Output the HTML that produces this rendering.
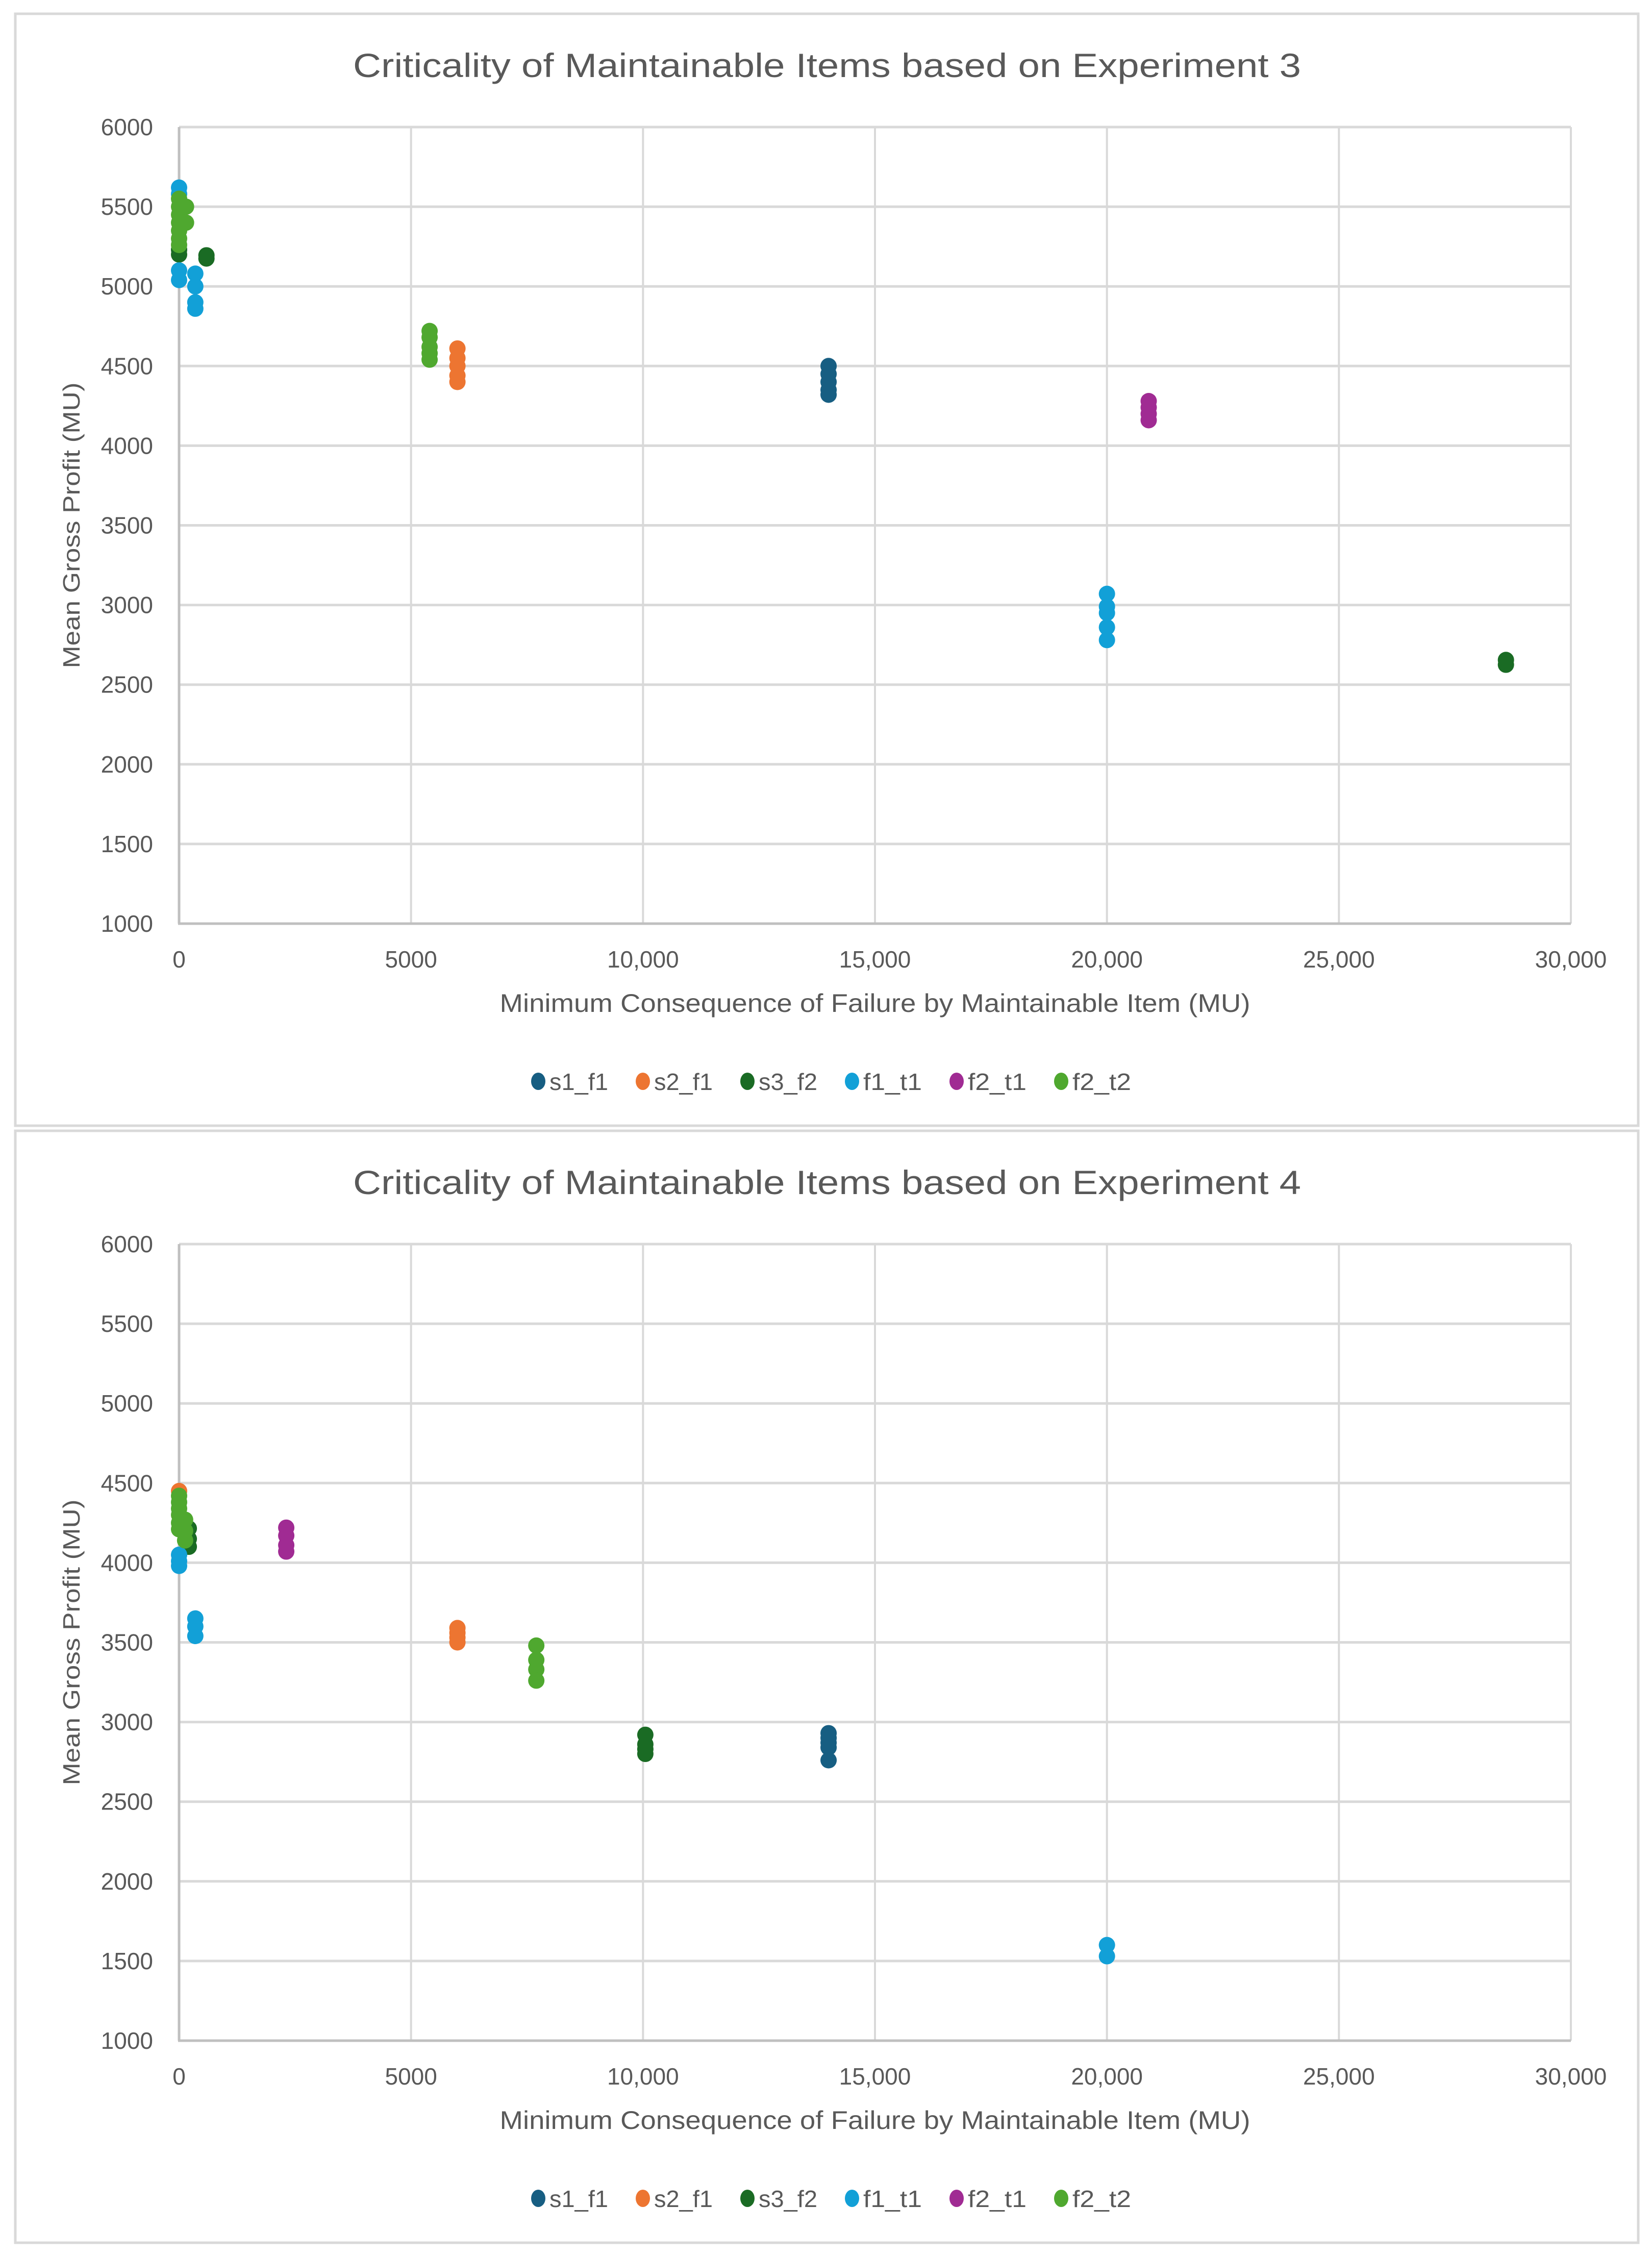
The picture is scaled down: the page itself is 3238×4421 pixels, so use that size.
<!DOCTYPE html>
<html><head><meta charset="utf-8">
<style>
html,body{margin:0;padding:0;background:#fff;}
svg{display:block;}
text{font-family:"Liberation Sans",sans-serif;fill:#595959;}
</style></head>
<body>
<svg id="root" width="3238" height="4421" viewBox="0 0 3238 4421" xmlns="http://www.w3.org/2000/svg"></svg>
<script>
const seriesNames = ["s1_f1","s2_f1","s3_f2","f1_t1","f2_t1","f2_t2"];
const seriesColors = ["#175E82","#ED7531","#1A6B24","#12A0D7","#A02B93","#4FA82F"];
const xTicks = [0,5000,10000,15000,20000,25000,30000];
const xTickLabels = ["0","5000","10,000","15,000","20,000","25,000","30,000"];
const yTicks = [1000,1500,2000,2500,3000,3500,4000,4500,5000,5500,6000];
const yTickLabels = ["1000","1500","2000","2500","3000","3500","4000","4500","5000","5500","6000"];

// Experiment 3 data
const e3_s1f1_x = [14000,14000,14000,14000,14000];
const e3_s1f1_y = [4500,4450,4400,4350,4320];
const e3_s2f1_x = [6000,6000,6000,6000,6000];
const e3_s2f1_y = [4610,4550,4500,4440,4400];
const e3_s3f2_x = [0,0,590,590,28600,28600];
const e3_s3f2_y = [5200,5230,5195,5175,2655,2625];
const e3_f1t1_x = [0,0,0,0,350,350,350,350,20000,20000,20000,20000,20000];
const e3_f1t1_y = [5620,5580,5100,5040,5080,5000,4900,4860,3070,2990,2950,2860,2780];
const e3_f2t1_x = [20900,20900,20900,20900];
const e3_f2t1_y = [4280,4240,4200,4160];
const e3_f2t2_x = [5400,5400,5400,5400,5400,0,0,0,0,0,0,0,150,150];
const e3_f2t2_y = [4720,4680,4620,4580,4540,5550,5500,5450,5400,5350,5300,5260,5500,5400];

// Experiment 4 data
const e4_s1f1_x = [14000,14000,14000,14000,14000];
const e4_s1f1_y = [2930,2900,2870,2840,2760];
const e4_s2f1_x = [0,6000,6000,6000,6000];
const e4_s2f1_y = [4450,3590,3560,3530,3500];
const e4_s3f2_x = [210,210,210,10050,10050,10050,10050];
const e4_s3f2_y = [4215,4150,4100,2920,2860,2830,2800];
const e4_f1t1_x = [0,0,0,350,350,350,20000,20000];
const e4_f1t1_y = [4050,4010,3980,3650,3600,3540,1600,1530];
const e4_f2t1_x = [2310,2310,2310,2310];
const e4_f2t1_y = [4220,4170,4110,4070];
const e4_f2t2_x = [7700,7700,7700,7700,0,0,0,0,0,0,130,130,130];
const e4_f2t2_y = [3480,3390,3330,3260,4420,4380,4340,4300,4250,4210,4270,4200,4140];

const NS = "http://www.w3.org/2000/svg";
const root = document.getElementById("root");
function mk(tag, attrs, parent){
  const e = document.createElementNS(NS, tag);
  for (const k in attrs) e.setAttribute(k, attrs[k]);
  parent.appendChild(e);
  return e;
}

function drawChart(off, title, idx, data){
  const g = mk("g", {}, root);
  
  
  const border = mk("rect", {x:30, y:27+off, width:3181, height:2179, fill:"#fff", stroke:"#D9D9D9", "stroke-width":5}, g);
  
  
  const L = 351, R = 3079, T = 249+off, B = 1810+off;
  const xs = v => L + (v - 0) / 30000 * (R - L);
  const ys = v => B - (v - 1000) / 5000 * (B - T);
  const t = mk("text", {x:1621, y:151+off, "font-size":66, "text-anchor":"middle", textLength:1858, lengthAdjust:"spacingAndGlyphs"}, g);
  t.textContent = title;
  
  
  // gridlines
  yTicks.forEach((v, i) => {
    if (i > 0) {
      const gl = mk("line", {x1:L, x2:R, y1:ys(v), y2:ys(v), stroke:"#D9D9D9", "stroke-width":5}, g);
      
      
    }
    const tl = mk("text", {x:300, y:ys(v)+16, "font-size":46, "text-anchor":"end"}, g);
    tl.textContent = yTickLabels[i];
    
    
  });
  xTicks.forEach((v, i) => {
    if (i > 0) {
      const gl = mk("line", {x1:xs(v), x2:xs(v), y1:T, y2:B, stroke:"#D9D9D9", "stroke-width":4}, g);
      
      
    }
    const tl = mk("text", {x:xs(v), y:1896+off, "font-size":46, "text-anchor":"middle"}, g);
    tl.textContent = xTickLabels[i];
    
    
  });
  const ax = mk("line", {x1:L, x2:L, y1:T, y2:B, stroke:"#BFBFBF", "stroke-width":5}, g);
  
  
  const bx = mk("line", {x1:L-2, x2:R, y1:B, y2:B, stroke:"#BFBFBF", "stroke-width":5}, g);
  
  
  const yt = mk("text", {x:0, y:0, "font-size":46, "text-anchor":"middle", transform:`translate(156 ${(T+B)/2}) rotate(-90)`, textLength:560, lengthAdjust:"spacingAndGlyphs"}, g);
  yt.textContent = "Mean Gross Profit (MU)";
  
  
  const xt = mk("text", {x:1715, y:1983+off, "font-size":50, "text-anchor":"middle", textLength:1471, lengthAdjust:"spacingAndGlyphs"}, g);
  xt.textContent = "Minimum Consequence of Failure by Maintainable Item (MU)";
  
  
  // points
  data.forEach((s, si) => {
    const sg = mk("g", {fill:seriesColors[si]}, g);
    
    
    s[0].forEach((xv, k) => {
      const c = mk("circle", {cx:xs(xv), cy:ys(s[1][k]), r:16}, sg);
      
      
    });
  });
  // legend
  const lg = mk("g", {}, g);
  
  
  seriesNames.forEach((n, i) => {
    const cx = 1055 + i * 205;
    const e = mk("g", {}, lg);
    
    
    mk("ellipse", {cx:cx, cy:2119+off, rx:14, ry:17, fill:seriesColors[i]}, e);
    const lt = mk("text", {x:cx+22, y:2136+off, "font-size":46, textLength:115, lengthAdjust:"spacingAndGlyphs"}, e);
    lt.textContent = n;
  });
}

drawChart(0, "Criticality of Maintainable Items based on Experiment 3", 3, [
  [e3_s1f1_x, e3_s1f1_y],[e3_s2f1_x, e3_s2f1_y],[e3_s3f2_x, e3_s3f2_y],
  [e3_f1t1_x, e3_f1t1_y],[e3_f2t1_x, e3_f2t1_y],[e3_f2t2_x, e3_f2t2_y]]);
drawChart(2189, "Criticality of Maintainable Items based on Experiment 4", 4, [
  [e4_s1f1_x, e4_s1f1_y],[e4_s2f1_x, e4_s2f1_y],[e4_s3f2_x, e4_s3f2_y],
  [e4_f1t1_x, e4_f1t1_y],[e4_f2t1_x, e4_f2t1_y],[e4_f2t2_x, e4_f2t2_y]]);
</script>
</body></html>
